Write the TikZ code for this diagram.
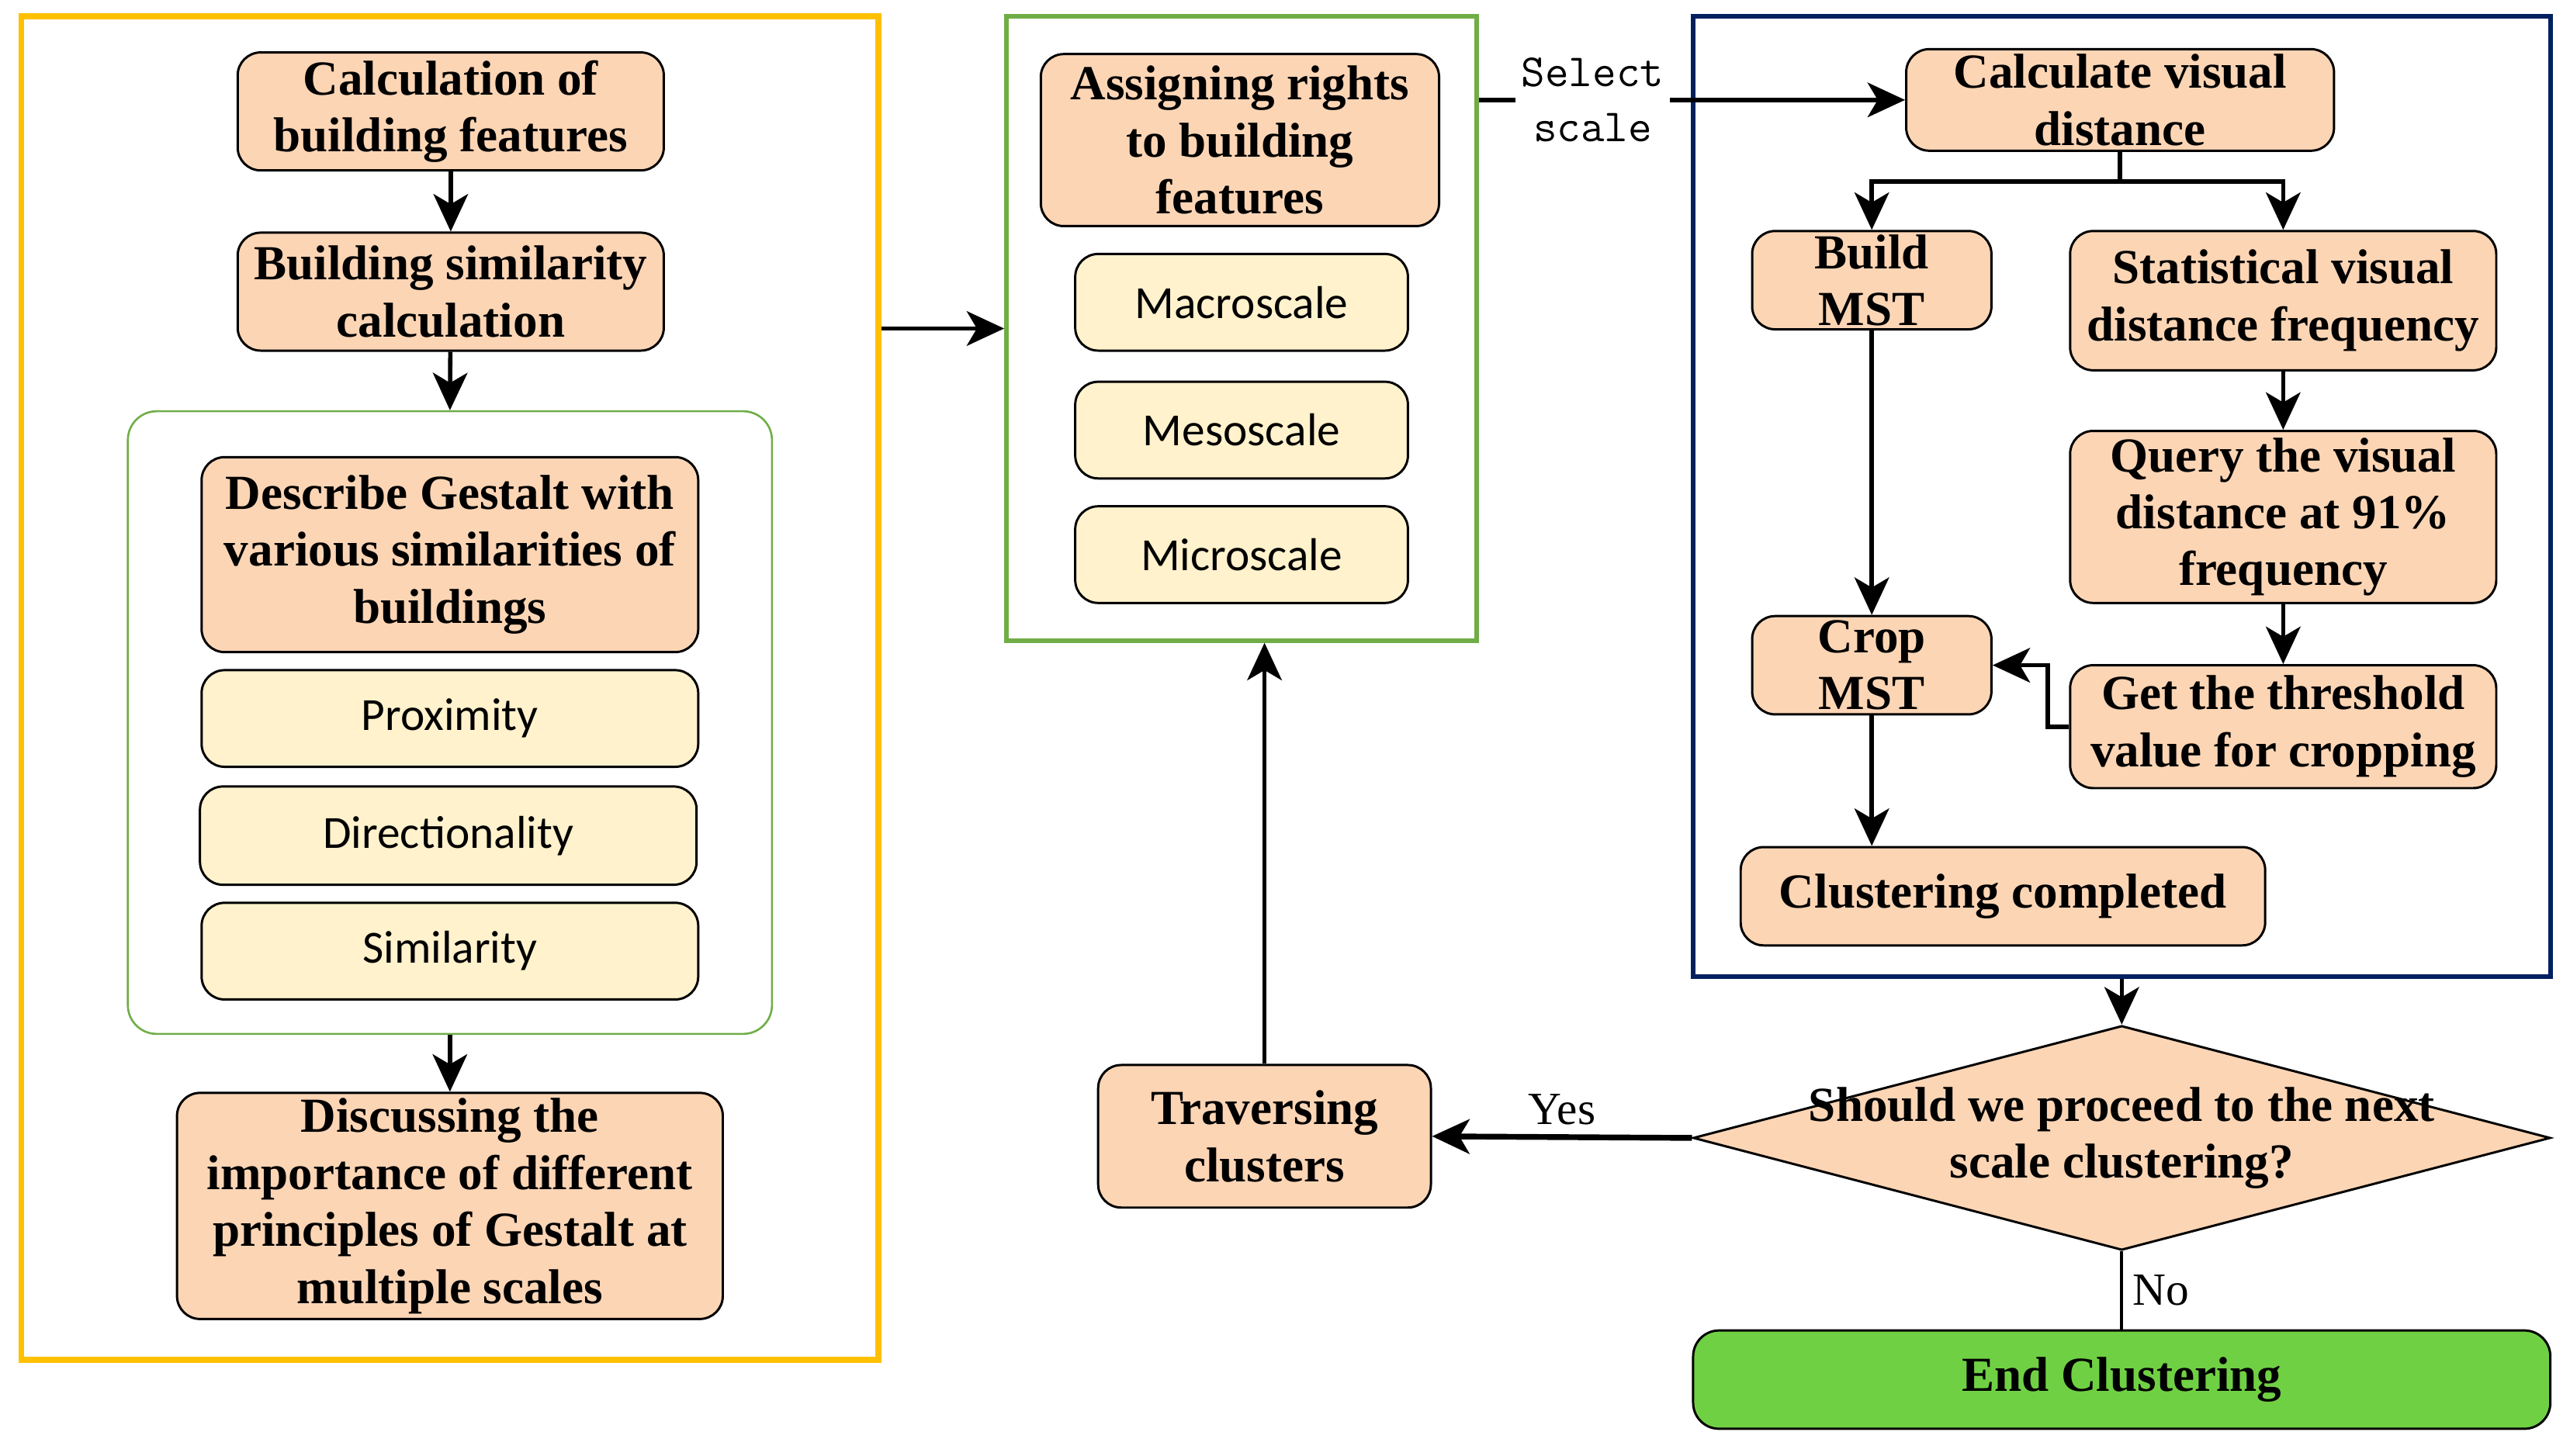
\documentclass[tikz,border=0pt]{standalone}
\usepackage{fontspec}
\setmainfont{Liberation Serif}
\newfontfamily\calfont{Carlito}
\usetikzlibrary{arrows.meta,shapes.geometric}
\definecolor{peach}{HTML}{FCD5B5}
\definecolor{cream}{HTML}{FFF2CC}
\definecolor{frameyellow}{HTML}{FFC000}
\definecolor{framegreen}{HTML}{70AD47}
\definecolor{frameblue}{HTML}{002060}
\definecolor{endgreen}{HTML}{70D044}
\newcommand{\bfsize}{\fontsize{17pt}{19.8pt}\selectfont\bfseries}
\newcommand{\calsize}{\fontsize{16pt}{19pt}\selectfont\calfont}
\newcommand{\lblsize}{\fontsize{16pt}{19pt}\selectfont}

\begin{document}
\begin{tikzpicture}[x=0.02cm, y=-0.02cm,
	boxsize/.style 2 args={minimum width=#1*0.02cm, minimum height=#2*0.02cm},
	pbox/.style={draw, fill=peach, rounded corners=8pt, line width=0.8pt, inner sep=0pt, align=center, font=\bfsize},
	ybox/.style={draw, fill=cream, rounded corners=8pt, line width=0.8pt, inner sep=0pt, align=center, font=\calsize},
	arr/.style={-{Stealth[length=13pt,width=12pt,inset=3.5pt]}, line width=1.5pt}]
	
	\useasboundingbox (0,0) rectangle (1568,888.6);
	
	% frames
	\node [draw=frameyellow, line width=2pt, inner sep=0pt, boxsize={523}{820}] (yframe) at (274.5,420) {};
	\node [draw=framegreen, line width=0.7pt, rounded corners=10pt, inner sep=0pt, boxsize={393}{380}] (gestalt) at (274.5,441) {};
	\node [draw=framegreen, line width=1.5pt, inner sep=0pt, boxsize={287}{381}] (scaleframe) at (757.5,200.5) {};
	\node [draw=frameblue, line width=1.6pt, inner sep=0pt, boxsize={523}{586}] (blueframe) at (1294.5,303) {};
	
	% left column
	\node [pbox, boxsize={260}{72}] (calc) at (275,68) {Calculation of\\building features};
	\node [pbox, boxsize={260}{72}] (simil) at (275,178) {Building similarity\\calculation};
	\node [pbox, boxsize={303}{119}] (descr) at (274.5,338.5) {Describe Gestalt with\\various similarities of\\buildings};
	\node [ybox, boxsize={303}{59}] (prox) at (274.5,438.5) {Proximity};
	\node [ybox, boxsize={303}{60}] (dirn) at (273.5,510) {Directionality};
	\node [ybox, boxsize={303}{59}] (sim) at (274.5,580.5) {Similarity};
	\node [pbox, boxsize={333}{138}] (disc) at (274.5,736) {Discussing the\\importance of different\\principles of Gestalt at\\multiple scales};
	
	\draw [arr] (calc) -- (simil);
	\draw [arr] (simil) -- (gestalt.north);
	\draw [arr] (gestalt.south) -- (disc);
	
	% scales
	\node [pbox, boxsize={243}{105}] (assign) at (756.5,85.5) {Assigning rights\\to building\\features};
	\node [ybox, boxsize={203}{59}] (macro) at (757.5,184.5) {Macroscale};
	\node [ybox, boxsize={203}{59}] (meso) at (757.5,262.5) {Mesoscale};
	\node [ybox, boxsize={203}{59}] (micro) at (757.5,338.5) {Microscale};
	
	\draw [arr] (yframe.east |- scaleframe.west) -- (scaleframe.west);
	
	% clustering
	\node [pbox, boxsize={261}{62}] (vdist) at (1293.5,61) {Calculate visual\\distance};
	\node [pbox, boxsize={146}{60}] (build) at (1142,171) {Build\\MST};
	\node [pbox, boxsize={260}{85}] (stat) at (1393,183.5) {Statistical visual\\distance frequency};
	\node [pbox, boxsize={260}{105}] (query) at (1393,315.5) {Query the visual\\distance at 91\%\\frequency};
	\node [pbox, boxsize={260}{75}] (thresh) at (1393,443.5) {Get the threshold\\value for cropping};
	\node [pbox, boxsize={146}{60}] (crop) at (1142,406) {Crop\\MST};
	\node [pbox, boxsize={320}{60}] (clust) at (1222,547) {Clustering completed};
	
	\draw [arr] (scaleframe.east |- vdist.west) -- node [pos=0.267, fill=white, inner xsep=2pt, align=center, font=\lblsize\ttfamily] {Select\\scale} (vdist.west);
	\draw [arr] (vdist.south) -- ++(0,18) -| (build.north);
	\draw [arr] (vdist.south) -- ++(0,18) -| (stat.north);
	\draw [arr] (build) -- (crop);
	\draw [arr] (stat) -- (query);
	\draw [arr] (query) -- (thresh);
	\draw [arr] (thresh.west) -- ++(-13,0) |- (crop.east);
	\draw [arr] (crop.south) -- (crop.south |- clust.north);
	
	% decision
	\node [draw, fill=peach, diamond, aspect=3.82, inner sep=0pt, line width=0.8pt, boxsize={523}{137},
		label={[font=\bfsize, align=center]center:{Should we proceed to the next\\scale clustering?}}] (decide) at (1294.5,694.5) {};
	\node [pbox, boxsize={203}{87}] (trav) at (771.5,693.5) {Traversing\\clusters};
	\node [pbox, fill=endgreen, rounded corners=9pt, boxsize={523}{60}] (endc) at (1294.5,842) {End Clustering};
	
	\draw [arr] (blueframe.south) -- (decide.north);
	\draw [arr, line width=2pt] (decide.west) -- node [above, font=\lblsize] {Yes} (trav.east);
	\draw [arr] (trav.north) -- (trav.north |- scaleframe.south);
	\draw [line width=1pt] (decide.south) -- node [right, font=\lblsize] {No} (endc.north);
	
\end{tikzpicture}
\end{document}
